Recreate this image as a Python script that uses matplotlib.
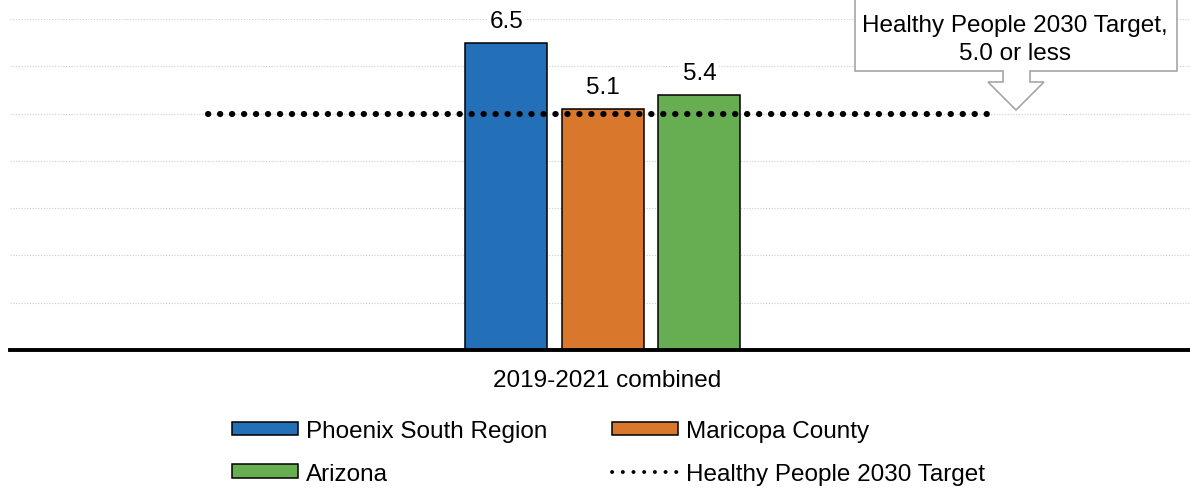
import matplotlib
matplotlib.use("Agg")
import matplotlib.pyplot as plt
from matplotlib.patches import Polygon, Patch
from matplotlib.lines import Line2D

plt.rcParams['font.family'] = ['Liberation Sans', 'DejaVu Sans']

# ---- data ----
category = "2019-2021 combined"
series_names = ["Phoenix South Region", "Maricopa County", "Arizona"]
series_values = [6.5, 5.1, 5.4]
series_colors = ["#2370b8", "#d9772d", "#67ad51"]
target_name = "Healthy People 2030 Target"
target_value = 5.0
callout_text = "Healthy People 2030 Target,\n5.0 or less"
y_ticks = [1, 2, 3, 4, 5, 6, 7]

FS = 17.5
W, H = 1190, 489
fig = plt.figure(figsize=(W / 100, H / 100), dpi=100)
ax = fig.add_axes([10 / W, (H - 351) / H, 1 - 10 / W, (351 - 20) / H])
ax.set_xlim(-0.5025, 0.4975)
ax.set_ylim(0, 7)

# gridlines
for t in y_ticks:
    ax.axhline(t, color="#cccccc", lw=0.8, ls=(0, (1, 1.5)), zorder=0)

offsets = [-0.0818, 0.0, 0.0818]
bar_w = 0.0695
handles = []
for off, v, c, name in zip(offsets, series_values, series_colors, series_names):
    ax.bar(off, v, width=bar_w, color=c, edgecolor="black", linewidth=1.1, zorder=2)
    ax.annotate(f"{v:.1f}", (off, v), xytext=(0, 8), textcoords="offset points",
                ha="center", va="bottom", fontsize=FS,
                bbox=dict(facecolor="white", edgecolor="none", pad=1.5), zorder=4)
    handles.append(Patch(facecolor=c, edgecolor="black", linewidth=1.1, label=name))

# target line
target_span = (-0.3345, 0.329)
ax.plot(target_span, [target_value, target_value], color="black", lw=4.4,
        ls=(0, (0.05, 1.91)), dash_capstyle="round", zorder=3)

# baseline
ax.axhline(0, color="black", lw=2.8, zorder=5, clip_on=False)
for s in ax.spines.values():
    s.set_visible(False)
ax.set_xticks([])
ax.set_yticks([])

fig.text(607 / W, 1 - 381 / H, category, ha="center", va="center", fontsize=FS)

# legend
target_handle = Line2D([0], [0], color="black", lw=2.8, ls=(0, (0.05, 2.7)),
                       dash_capstyle="round", label=target_name)
leg_handles = [handles[0], handles[2], handles[1], target_handle]
fig.legend(handles=leg_handles, loc="upper left",
           bbox_to_anchor=(232 / W, 1 - 421 / H), ncol=2, frameon=False,
           fontsize=FS, handlelength=2.71, handleheight=0.49,
           handletextpad=0.33, columnspacing=2.65, labelspacing=0.86,
           borderpad=0, borderaxespad=0)

# callout box with downward arrow (figure pixel coords)
pts = [(855, -2), (1177, -2), (1177, 72), (1030, 72), (1030, 83), (1044, 83),
       (1016, 111), (988, 83), (1003, 83), (1003, 72), (855, 72)]
poly = Polygon([(x / W, 1 - y / H) for x, y in pts], closed=True,
               transform=fig.transFigure, facecolor="white", edgecolor="#a6a6a6",
               linewidth=1.2, zorder=10)
fig.add_artist(poly)
fig.text(1015 / W, 1 - 40 / H, callout_text, ha="center", va="center",
         fontsize=FS, linespacing=1.3, zorder=11)

fig.savefig("out.png", dpi=100)
